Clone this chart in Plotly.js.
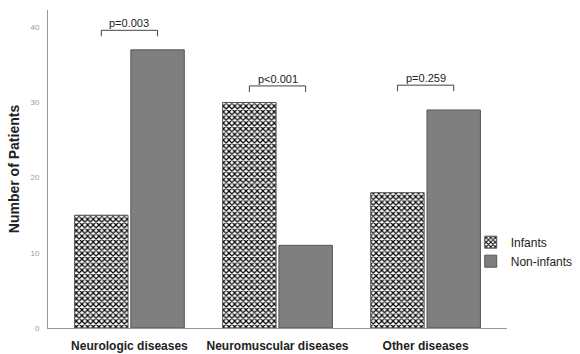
<!DOCTYPE html>
<html>
<head>
<meta charset="utf-8">
<script src="https://cdn.plot.ly/plotly-3.0.1.min.js"></script>
<style>html,body{margin:0;padding:0;background:#fff;}#chart{width:580px;height:354px;}</style>
</head>
<body>
<div id="chart"></div>
<script>
var categories = ["Neurologic diseases", "Neuromuscular diseases", "Other diseases"];
var infants = [15, 30, 18];
var nonInfants = [37, 11, 29];
var pLabels = ["p=0.003", "p<0.001", "p=0.259"];
var pLevels = [39.6, 32.2, 32.3];
var yTicks = [0, 10, 20, 30, 40];

var FONT = "Liberation Sans, Arial, sans-serif";

var traces = [
  {
    type: "bar", name: "Infants", x: [0, 1, 2], y: infants,
    marker: {
      color: "#ffffff",
      line: {color: "#555555", width: 1},
      pattern: {shape: "x", fgcolor: "#000000", bgcolor: "#ffffff", size: 4, solidity: 0.5, fillmode: "replace"}
    },
    hoverinfo: "skip"
  },
  {
    type: "bar", name: "Non-infants", x: [0, 1, 2], y: nonInfants,
    marker: {color: "#7f7f7f", line: {color: "#555555", width: 1}},
    hoverinfo: "skip"
  }
];

var slot = 0.19;
var shapes = [], annotations = [];
for (var i = 0; i < categories.length; i++) {
  var y0 = pLevels[i], drop = 0.8;
  var x0 = i - slot, x1 = i + slot;
  shapes.push({
    type: "path", xref: "x", yref: "y",
    path: "M" + x0 + "," + (y0 - drop) + " L" + x0 + "," + y0 + " L" + x1 + "," + y0 + " L" + x1 + "," + (y0 - drop),
    line: {color: "#444444", width: 1}
  });
  annotations.push({
    x: i, y: y0, xref: "x", yref: "y", text: pLabels[i], showarrow: false,
    yanchor: "bottom", yshift: -1,
    font: {family: FONT, size: 11, color: "#222222"}
  });
}

var layout = {
  width: 580, height: 354,
  margin: {l: 48, r: 73, t: 10, b: 26, autoexpand: false},
  paper_bgcolor: "#ffffff", plot_bgcolor: "#ffffff",
  barmode: "group", bargap: 0.24, bargroupgap: 0.05,
  showlegend: true,
  legend: {
    x: 0.921, xanchor: "left", y: 0.24, yanchor: "middle",
    font: {family: FONT, size: 12, color: "#222222"},
    itemwidth: 30, tracegroupgap: 0, bgcolor: "rgba(0,0,0,0)",
    borderwidth: 0
  },
  xaxis: {
    range: [-0.55, 2.55],
    tickmode: "array", tickvals: [0, 1, 2],
    ticktext: categories.map(function (c) { return "<b>" + c + "</b>"; }),
    showline: true, linecolor: "#999999", linewidth: 1,
    ticks: "", showgrid: false, zeroline: false,
    ticklabelstandoff: 7,
    tickfont: {family: FONT, size: 12, color: "#222222"}
  },
  yaxis: {
    range: [0, 42.3],
    tickmode: "array", tickvals: yTicks, ticktext: yTicks.map(String),
    showline: true, linecolor: "#999999", linewidth: 1,
    ticks: "", showgrid: false, zeroline: false,
    ticklabelstandoff: 6,
    tickfont: {family: FONT, size: 8, color: "#999999"},
    title: {text: "<b>Number of Patients</b>", standoff: 7,
      font: {family: FONT, size: 14, color: "#222222"}}
  },
  shapes: shapes,
  annotations: annotations
};

Plotly.newPlot("chart", traces, layout, {displayModeBar: false, staticPlot: true});
</script>
</body>
</html>
